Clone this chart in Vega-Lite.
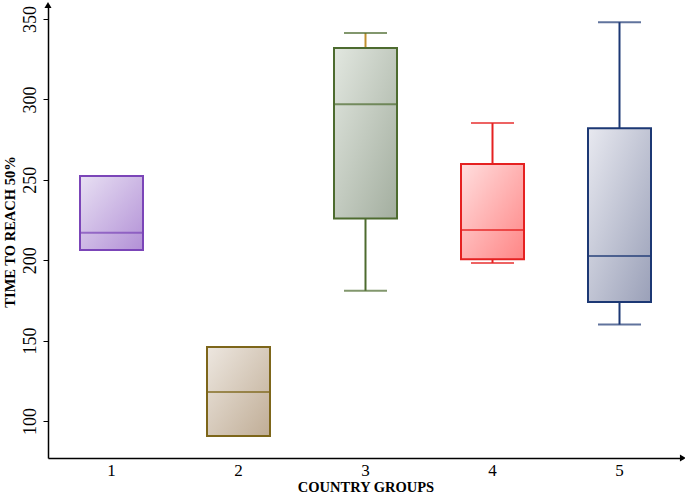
{
  "$schema": "https://vega.github.io/schema/vega-lite/v6.json",
  "width": 635,
  "height": 453,
  "autosize": {"type": "none"},
  "padding": {"left": 48, "top": 5, "right": 2, "bottom": 36},
  "background": "white",
  "config": {
    "view": {"stroke": null},
    "font": "Liberation Serif",
    "axis": {"grid": false, "domainColor": "black", "domainWidth": 1.5, "tickColor": "black", "labelColor": "black", "titleColor": "black", "labelFont": "Liberation Serif", "titleFont": "Liberation Serif"}
  },
  "data": {
    "values": [
      {"g": "1", "min": 206.3, "q1": 206.3, "median": 217, "q3": 252.4, "max": 252.4},
      {"g": "2", "min": 90.7, "q1": 90.7, "median": 118, "q3": 146, "max": 146},
      {"g": "3", "min": 181, "q1": 226, "median": 297, "q3": 332, "max": 341.3},
      {"g": "4", "min": 198.3, "q1": 200.6, "median": 218.8, "q3": 259.8, "max": 285.3},
      {"g": "5", "min": 160, "q1": 174, "median": 202.6, "q3": 282, "max": 348}
    ]
  },
  "encoding": {
    "x": {
      "field": "g", "type": "nominal",
      "scale": {"paddingInner": 0, "paddingOuter": 0},
      "axis": {"title": "COUNTRY GROUPS", "labelAngle": 0, "labelFontSize": 17, "ticks": false, "labelPadding": 4, "titleFontSize": 14.5, "titleFontWeight": "bold", "titlePadding": 2}
    }
  },
  "layer": [
    {
      "mark": {"type": "rule", "strokeWidth": 2},
      "encoding": {
        "y": {"field": "min", "type": "quantitative", "scale": {"domain": [77, 358.7], "nice": false, "zero": false},
          "axis": {"title": "TIME TO REACH 50%", "values": [100, 150, 200, 250, 300, 350], "labelAngle": 270, "labelAlign": "center", "labelBaseline": "bottom", "labelFontSize": 18, "labelPadding": 4, "tickSize": 5, "titleFontSize": 14.5, "titleFontWeight": "bold", "titlePadding": 4}},
        "y2": {"field": "q1"},
        "stroke": {"field": "g", "type": "nominal", "scale": {"domain": ["1", "2", "3", "4", "5"], "range": ["#7b45b8", "#7d661a", "#4d6b2f", "#e52121", "#1c3874"]}, "legend": null}
      }
    },
    {
      "mark": {"type": "rule", "strokeWidth": 2},
      "encoding": {
        "y": {"field": "q3", "type": "quantitative"},
        "y2": {"field": "max"},
        "stroke": {"condition": {"test": "datum.g === '3'", "value": "#c0902e"}, "field": "g", "type": "nominal", "legend": null}
      }
    },
    {
      "mark": {"type": "tick", "thickness": 2, "size": 43},
      "encoding": {
        "y": {"field": "min", "type": "quantitative"},
        "color": {"field": "g", "type": "nominal", "scale": {"domain": ["1", "2", "3", "4", "5"], "range": ["#7b45b8", "#7d661a", "#4d6b2f", "#e52121", "#1c3874"]}, "legend": null}
      }
    },
    {
      "mark": {"type": "tick", "thickness": 2, "size": 43},
      "encoding": {
        "y": {"field": "max", "type": "quantitative"},
        "color": {"field": "g", "type": "nominal", "legend": null}
      }
    },
    {
      "mark": {"type": "bar", "size": 63, "strokeWidth": 2},
      "encoding": {
        "y": {"field": "q1", "type": "quantitative"},
        "y2": {"field": "q3"},
        "stroke": {"field": "g", "type": "nominal", "legend": null},
        "fill": {
          "condition": [
            {"test": "datum.g === '1'", "value": {"gradient": "linear", "x1": 0, "y1": 0, "x2": 1, "y2": 1, "stops": [{"offset": 0, "color": "#e8e0f3"}, {"offset": 1, "color": "#b290d6"}]}},
            {"test": "datum.g === '2'", "value": {"gradient": "linear", "x1": 0, "y1": 0, "x2": 1, "y2": 1, "stops": [{"offset": 0, "color": "#ede7e0"}, {"offset": 1, "color": "#c0ad96"}]}},
            {"test": "datum.g === '3'", "value": {"gradient": "linear", "x1": 0, "y1": 0, "x2": 1, "y2": 1, "stops": [{"offset": 0, "color": "#e2e7e0"}, {"offset": 1, "color": "#a3ae9f"}]}},
            {"test": "datum.g === '4'", "value": {"gradient": "linear", "x1": 0, "y1": 0, "x2": 1, "y2": 1, "stops": [{"offset": 0, "color": "#ffdede"}, {"offset": 1, "color": "#ff8585"}]}}
          ],
          "value": {"gradient": "linear", "x1": 0, "y1": 0, "x2": 1, "y2": 1, "stops": [{"offset": 0, "color": "#e8e9f0"}, {"offset": 1, "color": "#9aa0b8"}]}
        },
        "fillOpacity": {"value": 1}
      }
    },
    {
      "mark": {"type": "tick", "thickness": 2, "size": 63},
      "encoding": {
        "y": {"field": "median", "type": "quantitative"},
        "color": {"field": "g", "type": "nominal", "legend": null}
      }
    },
    {
      "data": {"values": [{"end": "top"}]},
      "mark": {"type": "point", "shape": "triangle-up", "filled": true, "color": "black", "size": 50, "opacity": 1},
      "encoding": {
        "y": {"datum": 358.7, "type": "quantitative"},
        "x": {"value": 0}
      }
    },
    {
      "data": {"values": [{"end": "right"}]},
      "mark": {"type": "point", "shape": "triangle-right", "filled": true, "color": "black", "size": 50, "opacity": 1},
      "encoding": {
        "y": {"datum": 77, "type": "quantitative"},
        "x": {"value": {"expr": "width"}}
      }
    }
  ]
}
